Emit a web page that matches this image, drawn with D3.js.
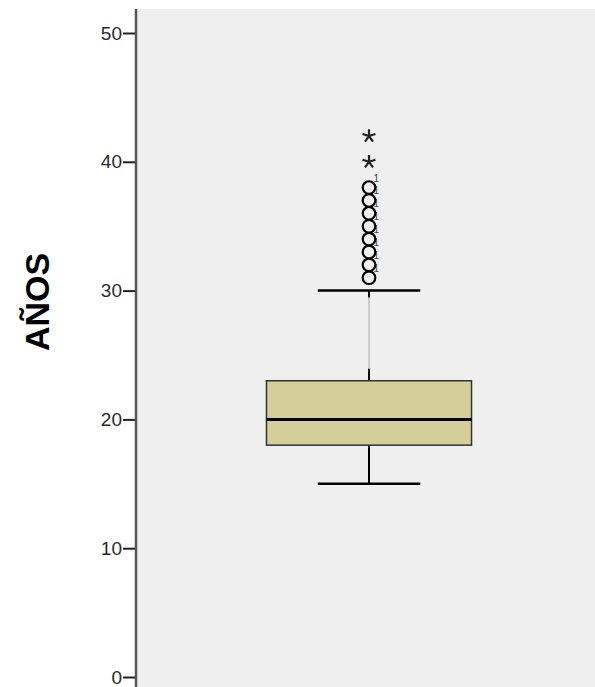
<!DOCTYPE html>
<html>
<head>
<meta charset="utf-8">
<script src="https://cdn.jsdelivr.net/npm/d3@7"></script>
<style>
  html, body { margin: 0; padding: 0; background: #ffffff; }
  svg { display: block; }
</style>
</head>
<body>
<svg id="chart" width="595" height="687"></svg>
<script>
// ---- data ----
const categories = ["AÑOS"];
const quartiles = [18, 20, 23];          // Q1, median, Q3
const whiskers = [15, 30];               // low, high
const outliers = [31, 32, 33, 34, 35, 36, 37, 38];
const extremes = [40, 42];
const outlierLabels = ["1", "1", "1", "1", "1", "1", "1", "1"];
const yTicks = [0, 10, 20, 30, 40, 50];
const axisTitle = "AÑOS";

// ---- layout ----
const W = 595, H = 687;
const plotLeft = 137, plotTop = 9;
const svg = d3.select("#chart");

const y = d3.scaleLinear().domain([0, 50]).range([677, 33]);
const x = d3.scaleBand().domain(categories).range([137, 601]).paddingInner(0.387).paddingOuter(0.387);

const bg = "#efefef";

// plot background
svg.append("rect")
  .attr("x", plotLeft).attr("y", plotTop)
  .attr("width", W - plotLeft).attr("height", H - plotTop)
  .attr("fill", bg);

// axis
const axis = d3.axisLeft(y).tickValues(yTicks).tickSize(13).tickPadding(1).tickFormat(d3.format("d"));
const gAxis = svg.append("g").attr("transform", `translate(${plotLeft - 1},0)`).call(axis);
gAxis.select(".domain").remove();
gAxis.selectAll(".tick line").attr("stroke", "#222").attr("stroke-width", 2);
gAxis.selectAll(".tick text")
  .attr("font-family", "Liberation Sans, Arial, sans-serif")
  .attr("font-size", 19).attr("fill", "#2a2a2a");

// axis line
svg.append("line")
  .attr("x1", plotLeft - 1).attr("x2", plotLeft - 1)
  .attr("y1", plotTop).attr("y2", H)
  .attr("stroke", "#555").attr("stroke-width", 2.5);

// axis title
svg.append("text")
  .attr("transform", `translate(49,302) rotate(-90)`)
  .attr("text-anchor", "middle")
  .attr("font-family", "Liberation Sans, Arial, sans-serif")
  .attr("font-weight", "bold")
  .attr("font-size", 34)
  .attr("fill", "#000")
  .text(axisTitle);

// ---- box plot ----
categories.forEach(cat => {
  const x0 = x(cat), bw = x.bandwidth(), cx = x0 + bw / 2;
  const capHalf = bw / 4;
  const g = svg.append("g");

  // upper whisker: thin gray line with short black ends
  g.append("line").attr("x1", cx).attr("x2", cx)
    .attr("y1", y(whiskers[1])).attr("y2", y(quartiles[2]))
    .attr("stroke", "#a8a8a8").attr("stroke-width", 1);
  g.append("line").attr("x1", cx).attr("x2", cx)
    .attr("y1", y(quartiles[2])).attr("y2", y(quartiles[2]) - 12)
    .attr("stroke", "#000").attr("stroke-width", 2);
  g.append("line").attr("x1", cx).attr("x2", cx)
    .attr("y1", y(whiskers[1])).attr("y2", y(whiskers[1]) + 7)
    .attr("stroke", "#000").attr("stroke-width", 2);
  // lower whisker
  g.append("line").attr("x1", cx).attr("x2", cx)
    .attr("y1", y(quartiles[0])).attr("y2", y(whiskers[0]))
    .attr("stroke", "#000").attr("stroke-width", 2);
  // caps
  whiskers.forEach(w => {
    g.append("line").attr("x1", cx - capHalf).attr("x2", cx + capHalf)
      .attr("y1", y(w)).attr("y2", y(w))
      .attr("stroke", "#000").attr("stroke-width", 2.5);
  });
  // box
  g.append("rect")
    .attr("x", x0).attr("y", y(quartiles[2]))
    .attr("width", bw).attr("height", y(quartiles[0]) - y(quartiles[2]))
    .attr("fill", "#d4cf98").attr("stroke", "#333").attr("stroke-width", 1.5);
  // median
  g.append("line").attr("x1", x0).attr("x2", x0 + bw)
    .attr("y1", y(quartiles[1])).attr("y2", y(quartiles[1]))
    .attr("stroke", "#000").attr("stroke-width", 3);

  // outlier labels (mostly hidden behind circles)
  g.selectAll("text.lab").data(outliers).enter().append("text")
    .attr("class", "lab")
    .attr("x", cx + 4.5).attr("y", (d) => y(d) - 6)
    .attr("font-family", "Liberation Sans, Arial, sans-serif")
    .attr("font-size", 10)
    .style("fill", "#444")
    .text((d, i) => outlierLabels[i]);

  // outlier circles
  g.selectAll("circle.out").data(outliers).enter().append("circle")
    .attr("class", "out")
    .attr("cx", cx).attr("cy", d => y(d)).attr("r", 6.3)
    .attr("fill", bg).attr("stroke", "#000").attr("stroke-width", 2.2);

  // extreme stars (5-arm asterisk)
  const arm = 6.8;
  extremes.forEach(v => {
    const cy = y(v);
    let p = "";
    for (let k = 0; k < 5; k++) {
      const a = -Math.PI / 2 + k * 2 * Math.PI / 5;
      p += `M${cx},${cy}L${cx + arm * Math.cos(a)},${cy + arm * Math.sin(a)}`;
    }
    g.append("path").attr("d", p).attr("stroke", "#222").attr("stroke-width", 2.2).attr("fill", "none");
  });
});
</script>
</body>
</html>
